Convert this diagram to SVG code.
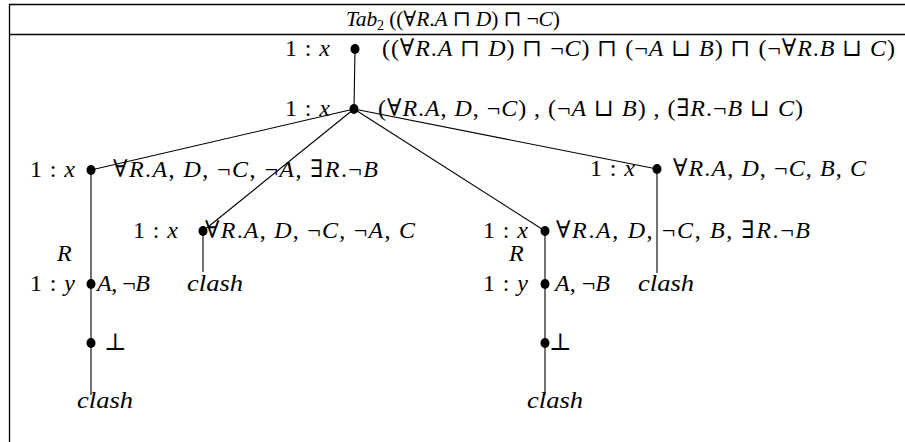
<svg xmlns="http://www.w3.org/2000/svg" width="905" height="442" viewBox="0 0 905 442">
<style>
text{font-family:"Liberation Serif","DejaVu Serif",serif;font-size:24px;fill:#000}
.i{font-style:italic}
.ttl{font-size:21.5px}
.sub{font-size:14px}
.ln{stroke:#000;stroke-width:1.1;fill:none}
.fr{stroke:#000;stroke-width:1.3;fill:none}
.dot{fill:#000}
</style>
<rect width="905" height="442" fill="#fff"/>
<g id="frame">
<line class="fr" x1="9.5" y1="4" x2="9.5" y2="442"/>
<line class="fr" x1="9" y1="4.5" x2="905" y2="4.5"/>
<line class="fr" x1="9" y1="34.5" x2="905" y2="34.5"/>
<text class="ttl" x="346" y="26" textLength="214" lengthAdjust="spacing"><tspan class="i">Tab</tspan><tspan class="sub" dy="4">2</tspan><tspan dy="-4"> ((∀</tspan><tspan class="i">R</tspan>.<tspan class="i">A</tspan> ⊓ <tspan class="i">D</tspan>) ⊓ ¬<tspan class="i">C</tspan>)</text>
</g>
<g id="connectors">
<line class="ln" x1="355" y1="49" x2="354" y2="109"/>
<line class="ln" x1="354" y1="109" x2="91" y2="170"/>
<line class="ln" x1="354" y1="109" x2="203" y2="231"/>
<line class="ln" x1="354" y1="109" x2="545" y2="231"/>
<line class="ln" x1="354" y1="109" x2="657" y2="169"/>
<line class="ln" x1="91" y1="170" x2="91" y2="395"/>
<line class="ln" x1="203" y1="231" x2="203" y2="272"/>
<line class="ln" x1="545" y1="231" x2="545" y2="395"/>
<line class="ln" x1="657" y1="169" x2="657" y2="273"/>
</g>
<g id="n0">
<ellipse class="dot" cx="355" cy="49" rx="4.5" ry="5"/>
<text x="285" y="56" textLength="45">1 : <tspan class="i">x</tspan></text>
<text x="382" y="56" textLength="513" lengthAdjust="spacing">((∀<tspan class="i">R</tspan>.<tspan class="i">A</tspan> ⊓ <tspan class="i">D</tspan>) ⊓ ¬<tspan class="i">C</tspan>) ⊓ (¬<tspan class="i">A</tspan> ⊔ <tspan class="i">B</tspan>) ⊓ (¬∀<tspan class="i">R</tspan>.<tspan class="i">B</tspan> ⊔ <tspan class="i">C</tspan>)</text>
</g>
<g id="n1">
<ellipse class="dot" cx="354" cy="109" rx="4.5" ry="5"/>
<text x="285" y="116" textLength="45">1 : <tspan class="i">x</tspan></text>
<text x="378" y="116" textLength="425" lengthAdjust="spacing">(∀<tspan class="i">R</tspan>.<tspan class="i">A</tspan>, <tspan class="i">D</tspan>, ¬<tspan class="i">C</tspan>) , (¬<tspan class="i">A</tspan> ⊔ <tspan class="i">B</tspan>) , (∃<tspan class="i">R</tspan>.¬<tspan class="i">B</tspan> ⊔ <tspan class="i">C</tspan>)</text>
</g>
<g id="n2">
<ellipse class="dot" cx="91" cy="170" rx="4.5" ry="5"/>
<text x="30" y="177" textLength="45">1 : <tspan class="i">x</tspan></text>
<text x="113" y="177" textLength="265" lengthAdjust="spacing">∀<tspan class="i">R</tspan>.<tspan class="i">A</tspan>, <tspan class="i">D</tspan>, ¬<tspan class="i">C</tspan>, ¬<tspan class="i">A</tspan>, ∃<tspan class="i">R</tspan>.¬<tspan class="i">B</tspan></text>
</g>
<g id="n3">
<ellipse class="dot" cx="203" cy="231" rx="4.5" ry="5"/>
<text x="133" y="238" textLength="45">1 : <tspan class="i">x</tspan></text>
<text x="205" y="238" textLength="210" lengthAdjust="spacing">∀<tspan class="i">R</tspan>.<tspan class="i">A</tspan>, <tspan class="i">D</tspan>, ¬<tspan class="i">C</tspan>, ¬<tspan class="i">A</tspan>, <tspan class="i">C</tspan></text>
</g>
<g id="n4">
<ellipse class="dot" cx="545" cy="231" rx="4.5" ry="5"/>
<text x="483" y="238" textLength="45">1 : <tspan class="i">x</tspan></text>
<text x="556" y="238" textLength="254" lengthAdjust="spacing">∀<tspan class="i">R</tspan>.<tspan class="i">A</tspan>, <tspan class="i">D</tspan>, ¬<tspan class="i">C</tspan>, <tspan class="i">B</tspan>, ∃<tspan class="i">R</tspan>.¬<tspan class="i">B</tspan></text>
</g>
<g id="n5">
<ellipse class="dot" cx="657" cy="169" rx="4.5" ry="5"/>
<text x="590" y="176" textLength="45">1 : <tspan class="i">x</tspan></text>
<text x="673" y="176" textLength="193" lengthAdjust="spacing">∀<tspan class="i">R</tspan>.<tspan class="i">A</tspan>, <tspan class="i">D</tspan>, ¬<tspan class="i">C</tspan>, <tspan class="i">B</tspan>, <tspan class="i">C</tspan></text>
</g>
<g id="n6">
<text class="i" x="57" y="261">R</text>
<ellipse class="dot" cx="91" cy="284" rx="4.5" ry="5"/>
<text x="30" y="291" textLength="45">1 : <tspan class="i">y</tspan></text>
<text x="97" y="291" textLength="53" lengthAdjust="spacing"><tspan class="i">A</tspan>, ¬<tspan class="i">B</tspan></text>
</g>
<g id="n7">
<text class="i" x="187" y="291" textLength="56" lengthAdjust="spacingAndGlyphs">clash</text>
</g>
<g id="n8">
<ellipse class="dot" cx="91" cy="343" rx="4.5" ry="5"/>
<text x="104" y="350">⊥</text>
</g>
<g id="n9">
<text class="i" x="77" y="408" textLength="56" lengthAdjust="spacingAndGlyphs">clash</text>
</g>
<g id="n10">
<text class="i" x="509" y="261">R</text>
<ellipse class="dot" cx="545" cy="284" rx="4.5" ry="5"/>
<text x="483" y="291" textLength="45">1 : <tspan class="i">y</tspan></text>
<text x="555" y="291" textLength="55" lengthAdjust="spacing"><tspan class="i">A</tspan>, ¬<tspan class="i">B</tspan></text>
</g>
<g id="n11">
<text class="i" x="638" y="291" textLength="56" lengthAdjust="spacingAndGlyphs">clash</text>
</g>
<g id="n12">
<ellipse class="dot" cx="545" cy="343" rx="4.5" ry="5"/>
<text x="549" y="350">⊥</text>
</g>
<g id="n13">
<text class="i" x="527" y="408" textLength="56" lengthAdjust="spacingAndGlyphs">clash</text>
</g>
</svg>
